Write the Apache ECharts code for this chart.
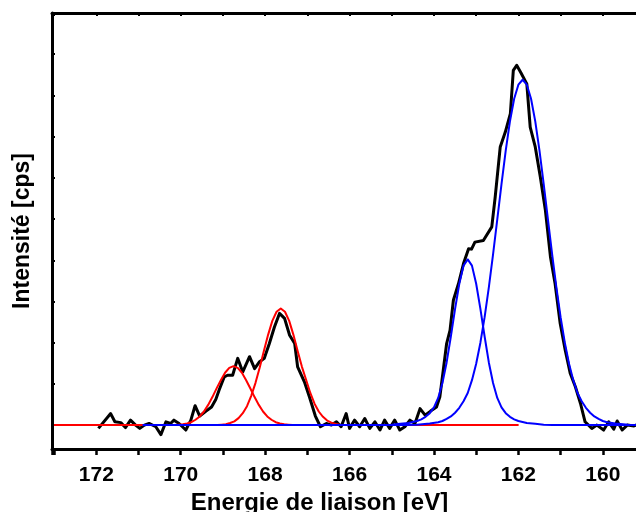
<!DOCTYPE html>
<html>
<head>
<meta charset="utf-8">
<script src="https://cdn.jsdelivr.net/npm/echarts@6/dist/echarts.min.js"></script>
<style>
html,body{margin:0;padding:0;background:#fff;}
#chart{width:636px;height:512px;}
</style>
</head>
<body>
<div id="chart"></div>
<script>
// Binding energy (eV) / intensity (arb. units, 1 unit = 1 y tick)
const xTitle = 'Energie de liaison [eV]';
const yTitle = 'Intensité [cps]';
const xTickLabels = [160, 162, 164, 166, 168, 170, 172];
const yTickValues = [0, 1, 2, 3, 4, 5, 6, 7, 8, 9, 10];

const measured = [
[171.95,-0.08],[171.66,0.28],[171.56,0.08],[171.42,0.06],[171.31,-0.06],[171.19,0.12],[171.07,0.00],[170.97,-0.08],[170.86,0.00],[170.75,0.04],[170.59,-0.04],[170.47,-0.23],[170.35,0.08],[170.24,0.04],[170.16,0.12],[170.04,0.04],[169.88,-0.12],[169.76,0.12],[169.66,0.47],[169.55,0.22],[169.40,0.34],[169.27,0.44],[169.17,0.62],[169.09,0.85],[168.97,1.17],[168.89,1.21],[168.77,1.21],[168.65,1.62],[168.53,1.29],[168.37,1.66],[168.25,1.37],[168.14,1.53],[168.02,1.62],[167.90,1.98],[167.78,2.38],[167.66,2.71],[167.54,2.59],[167.42,2.18],[167.30,1.98],[167.23,1.41],[167.07,1.05],[166.95,0.68],[166.81,0.22],[166.69,-0.04],[166.55,0.04],[166.43,0.00],[166.31,0.08],[166.20,-0.04],[166.08,0.28],[166.00,-0.08],[165.88,0.12],[165.76,-0.04],[165.64,0.16],[165.52,-0.08],[165.40,0.08],[165.28,-0.12],[165.17,0.12],[165.05,-0.08],[164.93,0.12],[164.81,-0.12],[164.69,-0.04],[164.57,0.12],[164.45,0.04],[164.33,0.40],[164.21,0.24],[164.08,0.34],[163.94,0.44],[163.86,0.69],[163.78,1.33],[163.70,1.98],[163.62,2.30],[163.54,3.03],[163.42,3.43],[163.30,3.92],[163.18,4.28],[163.11,4.27],[163.03,4.44],[162.83,4.48],[162.63,4.81],[162.55,5.53],[162.43,6.75],[162.31,7.11],[162.19,7.56],[162.12,8.61],[162.04,8.73],[161.94,8.55],[161.80,8.28],[161.72,7.23],[161.60,6.75],[161.48,6.02],[161.36,5.21],[161.24,4.08],[161.13,3.43],[161.01,2.47],[160.89,1.82],[160.77,1.25],[160.65,0.93],[160.53,0.53],[160.42,0.08],[160.26,-0.08],[160.14,0.00],[159.98,-0.12],[159.86,0.08],[159.74,-0.10],[159.66,0.10],[159.54,-0.12],[159.42,0.00],[159.26,-0.02],[159.12,0.04],[159.0,0.0]
];

const redA = [
[173.0,0],[170.15,0],[170.05,0.01],[169.95,0.02],[169.85,0.04],[169.75,0.07],[169.65,0.13],[169.55,0.21],[169.45,0.33],[169.35,0.49],[169.25,0.68],[169.15,0.89],[169.05,1.09],[168.95,1.27],[168.85,1.39],[168.75,1.43],[168.65,1.39],[168.55,1.27],[168.45,1.09],[168.35,0.89],[168.25,0.68],[168.15,0.49],[168.05,0.33],[167.95,0.21],[167.85,0.13],[167.75,0.07],[167.65,0.04],[167.55,0.02],[167.45,0.01],[167.35,0],[162.0,0]
];

const redB = [
[173.0,0],[169.13,0],[169.03,0.01],[168.93,0.02],[168.83,0.05],[168.73,0.09],[168.63,0.17],[168.53,0.29],[168.43,0.46],[168.33,0.71],[168.23,1.02],[168.13,1.39],[168.03,1.80],[167.93,2.19],[167.83,2.53],[167.73,2.75],[167.63,2.83],[167.53,2.75],[167.43,2.53],[167.33,2.19],[167.23,1.80],[167.13,1.42],[167.03,1.10],[166.93,0.78],[166.83,0.52],[166.73,0.33],[166.63,0.20],[166.53,0.11],[166.43,0.06],[166.33,0.03],[166.23,0.01],[166.13,0],[162.0,0]
];

const blueC = [
[170.9,0],[165.2,0],[165.0,0.01],[164.8,0.03],[164.6,0.05],[164.4,0.10],[164.3,0.14],[164.2,0.20],[164.1,0.29],[164.0,0.43],[163.9,0.66],[163.8,1.02],[163.7,1.52],[163.6,2.15],[163.5,2.82],[163.4,3.43],[163.3,3.87],[163.2,4.02],[163.1,3.87],[163.0,3.43],[162.9,2.82],[162.8,2.15],[162.7,1.52],[162.6,1.02],[162.5,0.66],[162.4,0.43],[162.3,0.29],[162.2,0.20],[162.1,0.14],[162.0,0.10],[161.8,0.05],[161.6,0.03],[161.4,0.01],[161.2,0],[159.0,0]
];

const blueD = [
[170.9,0],[164.7,0],[164.4,0.01],[164.1,0.04],[163.9,0.07],[163.8,0.10],[163.7,0.15],[163.6,0.21],[163.5,0.30],[163.4,0.42],[163.3,0.58],[163.2,0.78],[163.1,1.09],[163.0,1.49],[162.9,2.00],[162.8,2.62],[162.7,3.34],[162.6,4.14],[162.5,4.99],[162.4,5.85],[162.3,6.66],[162.2,7.37],[162.1,7.92],[162.0,8.26],[161.9,8.38],[161.8,8.26],[161.7,7.92],[161.6,7.37],[161.5,6.66],[161.4,5.85],[161.3,4.99],[161.2,4.14],[161.1,3.34],[161.0,2.62],[160.9,2.00],[160.8,1.49],[160.7,1.09],[160.6,0.78],[160.5,0.58],[160.4,0.42],[160.3,0.30],[160.2,0.21],[160.1,0.15],[160.0,0.10],[159.9,0.07],[159.7,0.04],[159.4,0.01],[159.0,0]
];

const FONT = '"Liberation Sans", Arial, sans-serif';
const chart = echarts.init(document.getElementById('chart'), null, {renderer: 'canvas'});

function lineSeries(data, color, width) {
  return {
    type: 'line', data: data, xAxisIndex: 0, yAxisIndex: 0,
    showSymbol: false, symbol: 'none', smooth: false, silent: true,
    lineStyle: {color: color, width: width, join: 'round'},
    clip: true
  };
}

chart.setOption({
  animation: false,
  backgroundColor: '#ffffff',
  grid: {left: 52, top: 13, right: -9, bottom: 63, containLabel: false, outerBoundsMode: 'none'},
  xAxis: [
    {
      type: 'value', position: 'bottom', min: 159, max: 173.05, interval: 1, inverse: true,
      axisLine: {onZero: false, lineStyle: {color: '#000', width: 3}},
      axisTick: {inside: false, length: 6, lineStyle: {color: '#000', width: 2.5}},
      axisLabel: {
        margin: 16, color: '#000', fontFamily: FONT, fontWeight: 'bold', fontSize: 21,
        formatter: function (v) { return xTickLabels.indexOf(Math.round(v * 100) / 100) >= 0 ? String(v) : ''; }
      },
      splitLine: {show: false},
      name: xTitle, nameLocation: 'middle', nameGap: 41,
      nameTextStyle: {color: '#000', fontFamily: FONT, fontWeight: 'bold', fontSize: 24, padding: [0, 58, 0, 0]}
    },
    {
      type: 'value', position: 'top', min: 159, max: 173.05, interval: 1, inverse: true,
      axisLine: {onZero: false, lineStyle: {color: '#000', width: 3}},
      axisTick: {inside: true, length: 3, lineStyle: {color: '#000', width: 2}},
      axisLabel: {show: false},
      splitLine: {show: false}
    }
  ],
  yAxis: {
    type: 'value', position: 'left', min: -0.58, max: 10,
    axisLine: {onZero: false, show: true, lineStyle: {color: '#000', width: 3}},
    axisTick: {show: true, inside: true, length: 3, customValues: yTickValues, lineStyle: {color: '#000', width: 2}},
    axisLabel: {show: false},
    splitLine: {show: false},
    name: yTitle, nameLocation: 'middle', nameGap: 18, nameRotate: 90,
    nameTextStyle: {color: '#000', fontFamily: FONT, fontWeight: 'bold', fontSize: 23}
  },
  series: [
    lineSeries(measured, '#000000', 3),
    lineSeries(redA, '#ff0000', 2),
    lineSeries(redB, '#ff0000', 2),
    lineSeries(blueC, '#0000ff', 2),
    lineSeries(blueD, '#0000ff', 2)
  ]
});
</script>
</body>
</html>
